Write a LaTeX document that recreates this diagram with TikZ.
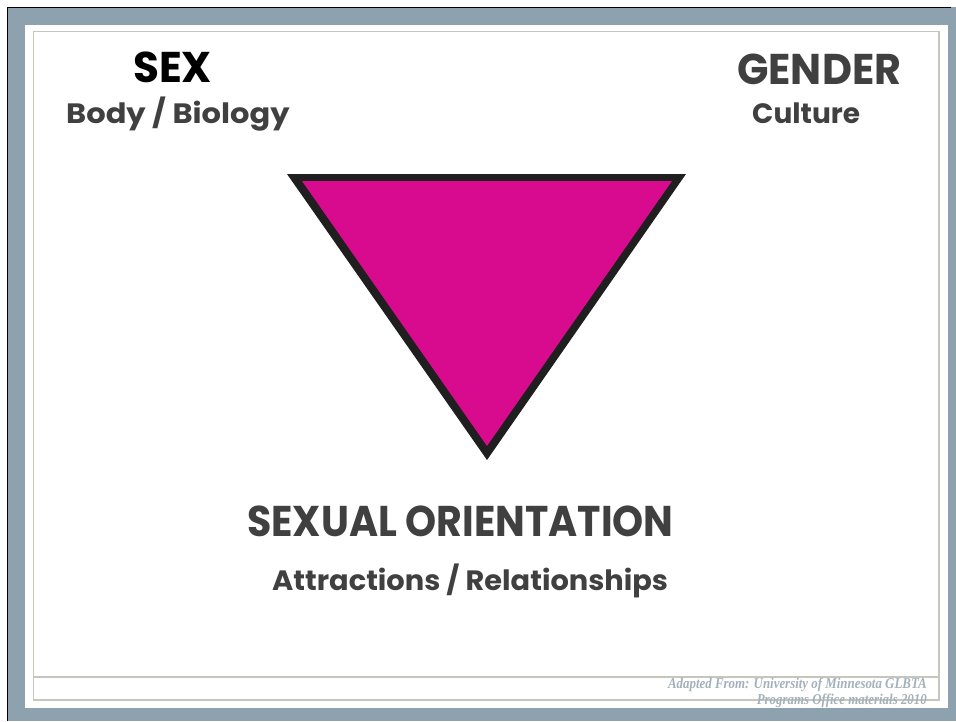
\documentclass[tikz,border=0pt]{standalone}
\usepackage{fontspec}
\setmainfont{Poppins}
\newfontfamily\notefont{Liberation Serif}
\definecolor{framegray}{HTML}{8DA2AE}
\definecolor{rulegray}{HTML}{C6C6BC}
\definecolor{inkgray}{HTML}{404040}
\definecolor{pinkfill}{HTML}{D80A8E}
\definecolor{notegray}{HTML}{A3B1BA}
\tikzset{
  heading/.style={anchor=base west, inner sep=0pt, font=\bfseries\fontsize{43}{47}\selectfont},
  subheading/.style={anchor=base west, inner sep=0pt, text=inkgray, font=\bfseries\fontsize{28}{32}\selectfont},
  note/.style={anchor=base east, inner sep=0pt, text=notegray, font=\notefont\bfseries\itshape\fontsize{15}{17}\selectfont}
}
\begin{document}
\begin{tikzpicture}[x=1pt,y=-1pt]
\useasboundingbox (0,0) rectangle (956,721);
\fill[white] (0,0) rectangle (956,721);
% mat and frame
\fill[framegray] (7,7) rectangle (956,721);
\draw[black, line width=1.6] (7.5,721) -- (7.5,7.5) -- (951,7.5);
\fill[white] (25,25) rectangle (948,708);
\draw[rulegray, line width=1.2] (33.5,31.5) rectangle (939,700);
\draw[rulegray, line width=1.2] (33.5,677) -- (939,677);
% inverted triangle
\fill[black!88] (287,174) -- (686,174) -- (487,460) -- cycle;
\fill[pinkfill] (302,181) -- (672,181) -- (487,446) -- cycle;
% labels
\node[heading, text=black] (sex) at (133,82) {\scalebox{0.98}[1]{SEX}};
\node[subheading] (body) at (66,123) {\scalebox{1.09}[1]{Body / Biology}};
\node[heading, text=inkgray] (gender) at (737,84) {\scalebox{0.96}[1]{GENDER}};
\node[subheading] (culture) at (752,123) {Culture};
\node[heading, text=inkgray] (orient) at (247,536) {\scalebox{0.92}[1]{SEXUAL ORIENTATION}};
\node[subheading] (attract) at (272,590) {\scalebox{1.03}[1]{Attractions / Relationships}};
\node[note] (src1) at (927,688) {\scalebox{0.86}[1]{Adapted From: University of Minnesota GLBTA}};
\node[note] (src2) at (927,704) {\scalebox{0.86}[1]{Programs Office materials 2010}};
\end{tikzpicture}
\end{document}
